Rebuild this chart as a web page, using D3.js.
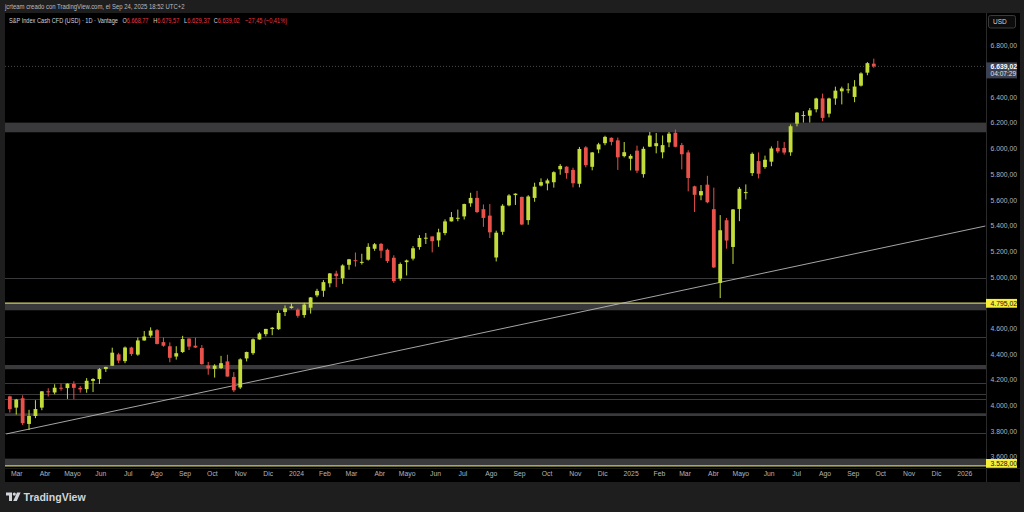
<!DOCTYPE html>
<html>
<head>
<meta charset="utf-8">
<script src="https://cdn.jsdelivr.net/npm/d3@7/dist/d3.min.js"></script>
<style>
  html, body { margin: 0; padding: 0; background: #1e1e1e; }
  svg { display: block; }
  text { font-family: "Liberation Sans", Arial, sans-serif; }
</style>
</head>
<body>
<svg id="chart" width="1024" height="512"></svg>
<script>
// ---------------- DATA (weekly OHLC, week starting Monday) ----------------
const weeks = ["2023-02-20","2023-02-27","2023-03-06","2023-03-13","2023-03-20","2023-03-27","2023-04-03","2023-04-10","2023-04-17","2023-04-24","2023-05-01","2023-05-08","2023-05-15","2023-05-22","2023-05-29","2023-06-05","2023-06-12","2023-06-19","2023-06-26","2023-07-03","2023-07-10","2023-07-17","2023-07-24","2023-07-31","2023-08-07","2023-08-14","2023-08-21","2023-08-28","2023-09-04","2023-09-11","2023-09-18","2023-09-25","2023-10-02","2023-10-09","2023-10-16","2023-10-23","2023-10-30","2023-11-06","2023-11-13","2023-11-20","2023-11-27","2023-12-04","2023-12-11","2023-12-18","2023-12-25","2024-01-01","2024-01-08","2024-01-15","2024-01-22","2024-01-29","2024-02-05","2024-02-12","2024-02-19","2024-02-26","2024-03-04","2024-03-11","2024-03-18","2024-03-25","2024-04-01","2024-04-08","2024-04-15","2024-04-22","2024-04-29","2024-05-06","2024-05-13","2024-05-20","2024-05-27","2024-06-03","2024-06-10","2024-06-17","2024-06-24","2024-07-01","2024-07-08","2024-07-15","2024-07-22","2024-07-29","2024-08-05","2024-08-12","2024-08-19","2024-08-26","2024-09-02","2024-09-09","2024-09-16","2024-09-23","2024-09-30","2024-10-07","2024-10-14","2024-10-21","2024-10-28","2024-11-04","2024-11-11","2024-11-18","2024-11-25","2024-12-02","2024-12-09","2024-12-16","2024-12-23","2024-12-30","2025-01-06","2025-01-13","2025-01-20","2025-01-27","2025-02-03","2025-02-10","2025-02-17","2025-02-24","2025-03-03","2025-03-10","2025-03-17","2025-03-24","2025-03-31","2025-04-07","2025-04-14","2025-04-21","2025-04-28","2025-05-05","2025-05-12","2025-05-19","2025-05-26","2025-06-02","2025-06-09","2025-06-16","2025-06-23","2025-06-30","2025-07-07","2025-07-14","2025-07-21","2025-07-28","2025-08-04","2025-08-11","2025-08-18","2025-08-25","2025-09-01","2025-09-08","2025-09-15","2025-09-22"];
const opens  = [4070,3982,4055,3855,3917,3982,4109,4100,4137,4134,4166,4136,4126,4190,4205,4283,4308,4397,4344,4450,4395,4505,4543,4585,4492,4460,4380,4415,4520,4464,4446,4310,4284,4290,4342,4221,4139,4365,4406,4513,4554,4594,4593,4726,4758,4745,4703,4760,4856,4892,4950,5026,4990,5094,5130,5115,5134,5219,5257,5211,5149,4987,5115,5142,5233,5305,5315,5284,5341,5432,5460,5471,5573,5615,5527,5477,5151,5351,5557,5637,5623,5442,5615,5711,5727,5737,5838,5858,5833,5725,6008,5857,5992,6041,6083,6063,5940,5920,5983,5800,6014,6018,5970,6047,6122,6026,5969,5705,5635,5718,5527,4953,5441,5233,5529,5655,5808,5902,5855,5897,6005,6004,5970,6193,6260,6255,6305,6390,6271,6389,6445,6458,6401,6489,6590,6660];
const highs  = [4075,4050,4078,3965,4040,4110,4133,4164,4170,4171,4187,4150,4212,4212,4290,4300,4449,4409,4458,4456,4528,4579,4607,4594,4528,4490,4460,4541,4520,4527,4469,4338,4320,4385,4394,4259,4366,4418,4521,4569,4595,4610,4739,4778,4793,4755,4798,4843,4907,4975,5030,5048,5098,5140,5190,5180,5262,5264,5264,5220,5168,5112,5135,5240,5325,5342,5315,5375,5448,5505,5524,5570,5655,5670,5564,5567,5360,5566,5644,5651,5624,5636,5733,5767,5765,5822,5878,5862,5850,6012,6018,5972,6044,6099,6086,6085,6050,5955,6022,6014,6128,6120,6101,6128,6147,6043,5986,5710,5715,5787,5695,5481,5459,5528,5700,5720,5969,5969,5944,6016,6059,6051,6187,6284,6291,6315,6395,6427,6395,6481,6481,6508,6532,6593,6672,6699];
const lows   = [3944,3928,3847,3808,3900,3962,4069,4086,4114,4050,4048,4099,4098,4103,4166,4260,4306,4328,4328,4385,4386,4503,4528,4474,4456,4335,4356,4408,4431,4447,4317,4238,4216,4283,4223,4103,4127,4342,4393,4511,4537,4546,4587,4695,4752,4682,4682,4714,4842,4845,4919,4920,4946,5056,5080,5096,5127,5203,5146,5108,4953,4970,5011,5128,5212,5256,5191,5234,5324,5431,5433,5447,5546,5497,5390,5302,5120,5328,5550,5560,5403,5406,5585,5704,5674,5695,5795,5764,5697,5697,5853,5830,5963,6025,6024,5833,5930,5829,5809,5773,6012,5962,5923,6010,6009,5837,5666,5505,5597,5573,5069,4835,5220,5101,5434,5603,5786,5767,5842,5862,5963,5952,5943,6172,6202,6202,6281,6212,6242,6340,6343,6430,6360,6482,6570,6628];
const closes = [3970,4045,3861,3917,3971,4109,4105,4137,4133,4169,4136,4124,4191,4205,4282,4299,4410,4348,4450,4399,4505,4536,4582,4478,4464,4370,4406,4516,4457,4450,4320,4288,4309,4328,4224,4117,4358,4415,4514,4559,4595,4604,4719,4755,4770,4697,4784,4840,4891,4959,5027,5006,5089,5137,5124,5117,5234,5254,5204,5123,4967,5100,5128,5223,5303,5305,5278,5347,5432,5465,5460,5567,5615,5505,5459,5347,5344,5554,5634,5648,5408,5626,5702,5738,5751,5815,5864,5808,5729,5996,5870,5969,6032,6090,6051,5931,5971,5942,5827,5997,6101,6041,6026,6115,6013,5955,5770,5639,5668,5581,5074,5363,5283,5525,5686,5660,5958,5803,5912,6000,5977,5968,6173,6279,6260,6297,6389,6238,6389,6450,6467,6460,6482,6584,6664,6639];

// price axis tick values
const priceTicks = [3600,3800,4000,4200,4400,4600,5000,5200,5400,5600,5800,6000,6200,6400,6800];
// horizontal zones drawn on the chart [low, high]
const zoneLows  = [6126, 4740, 4281, 3917, 3528];
const zoneHighs = [6201, 4795, 4314, 3938, 3585];
// thin grey horizontal lines
const greyLevels = [4989, 4530, 4176, 4086, 4047, 3787];
// yellow lines with labels
const yellowLevels = [4795.02, 3528.00];
// trendline anchor points
const trendDates  = ["2023-02-18", "2026-01-24"];
const trendPrices = [3777, 5396];
// last price
const lastPrice = 6639.02;
const lastCountdown = "04:07:29";
// header texts
const headerLine1 = "jcrteam creado con TradingView.com, el Sep 24, 2025 18:52 UTC+2";
const symbolText = "S&P Index Cash CFD (USD) · 1D · Vantage";
const ohlcKeys = ["O", "H", "L", "C"];
const ohlcVals = ["6.668,77", "6.679,57", "6.629,37", "6.639,02"];
const changeText = "−27,45 (−0,41%)";
// month labels (January shows the year)
const monthNames = ["", "Feb", "Mar", "Abr", "Mayo", "Jun", "Jul", "Ago", "Sep", "Oct", "Nov", "Dic"];
const monthStart = "2023-03-01", monthEnd = "2026-01-01";

// ---------------- DRAWING ----------------
const svg = d3.select("#chart");
const W = 1024, H = 512;
const pane = {l: 5, r: 986, t: 13, b: 468};
const parse = d3.timeParse("%Y-%m-%d");
const locale = d3.formatLocale({decimal: ",", thousands: ".", grouping: [3], currency: ["", ""]});
const fmt = locale.format(",.2f");

const x = d3.scaleTime().domain([new Date(2024, 0, 1), new Date(2026, 0, 1)]).range([296, 964.3]);
const y = d3.scaleLinear().domain([3600, 6800]).range([456.7, 45.7]);

// outer backgrounds
svg.append("rect").attr("width", W).attr("height", H).attr("fill", "#1e1e1e");
svg.append("rect").attr("x", 5).attr("y", 13).attr("width", 1015).attr("height", 469).attr("fill", "#000");

// header text: horizontally scaled to the reference's narrow UI font
function fitText(px, py, width, size) {
  const t = svg.append("text").attr("x", 0).attr("y", 0).attr("font-size", size);
  return {t, done: () => {
    const len = t.node().getComputedTextLength();
    t.attr("transform", `translate(${px},${py}) scale(${width / len},1)`);
  }};
}
{
  const a = fitText(5, 9, 180, 6.8); a.t.attr("fill", "#b8bbc2").text(headerLine1); a.done();
  const b = fitText(9, 23.3, 109, 7.4); b.t.attr("fill", "#d1d4dc").text(symbolText); b.done();
  const ohlcX = [122.5, 153.3, 184, 213.7];
  ohlcKeys.forEach((k, i) => {
    const o = fitText(ohlcX[i], 23.3, 26, 7.4);
    o.t.append("tspan").attr("fill", "#d1d4dc").text(k);
    o.t.append("tspan").attr("fill", "#f23645").text(ohlcVals[i]);
    o.done();
  });
  const c = fitText(245, 23.3, 42, 7.4); c.t.attr("fill", "#f23645").text(changeText); c.done();
}

// clip
svg.append("clipPath").attr("id", "clip").append("rect")
  .attr("x", pane.l).attr("y", pane.t).attr("width", pane.r - pane.l).attr("height", pane.b - pane.t);
const g = svg.append("g").attr("clip-path", "url(#clip)");

// zones
g.selectAll("rect.zone").data(zoneLows.map((lo, i) => [lo, zoneHighs[i]])).join("rect")
  .attr("class", "zone")
  .attr("x", pane.l).attr("width", pane.r - pane.l)
  .attr("y", d => y(d[1])).attr("height", d => y(d[0]) - y(d[1]))
  .attr("fill", "#3a3a3c");
// grey lines
g.selectAll("line.lvl").data(greyLevels).join("line")
  .attr("x1", pane.l).attr("x2", pane.r)
  .attr("y1", d => Math.round(y(d)) + 0.5).attr("y2", d => Math.round(y(d)) + 0.5)
  .attr("stroke", "#3a3a3c").attr("stroke-width", 1.2);
// yellow lines
g.selectAll("line.yel").data(yellowLevels).join("line")
  .attr("x1", pane.l).attr("x2", pane.r)
  .attr("y1", d => y(d)).attr("y2", d => y(d))
  .attr("stroke", "#cfcf6a").attr("stroke-width", 1.2);

// last price dotted line
g.append("line").attr("x1", pane.l).attr("x2", pane.r)
  .attr("y1", y(lastPrice)).attr("y2", y(lastPrice))
  .attr("stroke", "#5c5c5c").attr("stroke-width", 0.8).attr("stroke-dasharray", "1,2");

// trendline
g.append("line")
  .attr("x1", x(parse(trendDates[0]))).attr("y1", y(trendPrices[0]))
  .attr("x2", x(parse(trendDates[1]))).attr("y2", y(trendPrices[1]))
  .attr("stroke", "#b8b8b8").attr("stroke-width", 0.9);

// candles
const up = "#c3dc3a", down = "#e8524a";
const candles = weeks.map((w, i) => ({d: d3.timeDay.offset(parse(w), 2), o: opens[i], h: highs[i], l: lows[i], c: closes[i]}));
const bw = 3.8;
const cg = g.append("g");
cg.selectAll("line.wick").data(candles).join("line")
  .attr("x1", d => x(d.d)).attr("x2", d => x(d.d))
  .attr("y1", d => y(d.h)).attr("y2", d => y(d.l))
  .attr("stroke", d => d.c >= d.o ? up : down).attr("stroke-width", 1);
cg.selectAll("rect.body").data(candles).join("rect")
  .attr("x", d => x(d.d) - bw / 2).attr("width", bw)
  .attr("y", d => y(Math.max(d.o, d.c)))
  .attr("height", d => Math.max(1, Math.abs(y(d.o) - y(d.c))))
  .attr("fill", d => d.c >= d.o ? up : down);

// separators
svg.append("line").attr("x1", 986.5).attr("x2", 986.5).attr("y1", 13).attr("y2", 482).attr("stroke", "#2a2a2a");
svg.append("line").attr("x1", 5).attr("x2", 1020).attr("y1", 468.5).attr("y2", 468.5).attr("stroke", "#1c1c1c");

// price axis
const yAxis = d3.axisRight(y).tickValues(priceTicks).tickSize(0).tickPadding(0).tickFormat(fmt);
const ya = svg.append("g").attr("transform", "translate(990.5,0)").call(yAxis);
ya.select(".domain").remove();
ya.selectAll("text").attr("fill", "#b2b5be").attr("font-size", 6.8).attr("font-family", "Liberation Sans, Arial, sans-serif");

// USD box
svg.append("rect").attr("x", 988.5).attr("y", 15.5).attr("width", 27).attr("height", 12.5).attr("rx", 2)
  .attr("fill", "#0c0c0c").attr("stroke", "#3a3a3a");
svg.append("text").attr("x", 993).attr("y", 24.3).attr("font-size", 6.5).attr("fill", "#d1d4dc").text("USD");

// last price label
const ly = y(lastPrice);
svg.append("rect").attr("x", 986).attr("y", ly - 4).attr("width", 31).attr("height", 16).attr("fill", "#3b4150");
svg.append("text").attr("x", 990.5).attr("y", ly + 2.4).attr("font-size", 6.8).attr("fill", "#ffffff").attr("font-weight", "bold").text(fmt(lastPrice));
svg.append("text").attr("x", 990.5).attr("y", ly + 9.8).attr("font-size", 6.6).attr("fill", "#e0e3eb").text(lastCountdown);

// yellow labels
yellowLevels.forEach(v => {
  let cy = y(v);
  cy = Math.min(cy, 463.3);
  svg.append("rect").attr("x", 986).attr("y", cy - 4.3).attr("width", 31).attr("height", 8.8).attr("fill", "#f5ee3a");
  svg.append("text").attr("x", 990.5).attr("y", cy + 2.4).attr("font-size", 6.8).attr("fill", "#111").text(fmt(v));
});

// time axis
const monthTicks = d3.timeMonth.range(parse(monthStart), d3.timeDay.offset(parse(monthEnd), 1));
const xAxis = d3.axisBottom(x).tickValues(monthTicks).tickSize(0).tickPadding(0)
  .tickFormat(d => d.getMonth() === 0 ? String(d.getFullYear()) : monthNames[d.getMonth()]);
const xa = svg.append("g").attr("transform", "translate(0,471)").call(xAxis);
xa.select(".domain").remove();
xa.selectAll("text").attr("fill", "#b2b5be").attr("font-size", 6.8).attr("font-family", "Liberation Sans, Arial, sans-serif");

// TradingView logo
const logo = svg.append("g").attr("transform", "translate(6,492.5)").attr("fill", "#d1d4dc");
logo.append("path").attr("d", "M0,0 H6 V8.5 H3 V3 H0 Z");
logo.append("circle").attr("cx", 8.3).attr("cy", 1.6).attr("r", 1.6);
logo.append("path").attr("d", "M11,0 H14.6 L10.8,8.5 H7.2 Z");
svg.append("text").attr("x", 23.5).attr("y", 501).attr("font-size", 10.6).attr("font-weight", "bold")
  .attr("fill", "#d1d4dc").attr("font-family", "Lato, 'Open Sans', sans-serif").text("TradingView");
</script>
</body>
</html>
